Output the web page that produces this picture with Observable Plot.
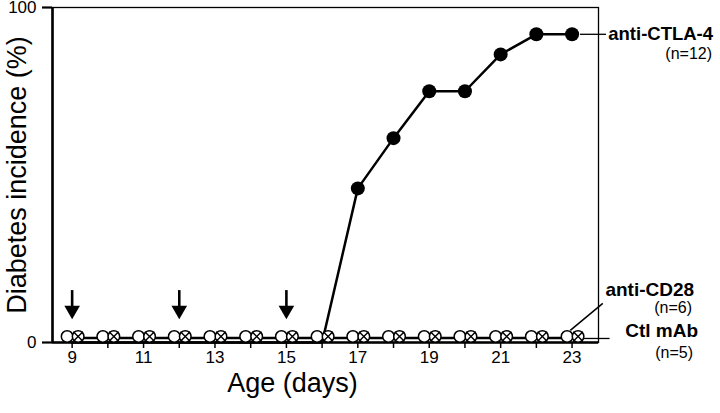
<!DOCTYPE html>
<html><head><meta charset="utf-8">
<script src="https://cdn.jsdelivr.net/npm/d3@7"></script>
<script src="https://cdn.jsdelivr.net/npm/@observablehq/plot@0.6"></script>
<style>body{margin:0;background:#fff}</style>
</head><body><div id="chart"></div>
<script>
// ---- data ----
const days = [9, 10, 11, 12, 13, 14, 15, 16, 17, 18, 19, 20, 21, 22, 23];
const antiCTLA4 = [0, 0, 0, 0, 0, 0, 0, 0, 46, 61, 75, 75, 86, 92, 92];
const antiCD28 = [0, 0, 0, 0, 0, 0, 0, 0, 0, 0, 0, 0, 0, 0, 0];
const ctlMAb = [0, 0, 0, 0, 0, 0, 0, 0, 0, 0, 0, 0, 0, 0, 0];
const treatmentDays = [9, 12, 15];
const seriesLabels = ["anti-CTLA-4", "anti-CD28", "Ctl mAb"];
const seriesN = ["(n=12)", "(n=6)", "(n=5)"];
const xTicks = [9, 10, 11, 12, 13, 14, 15, 16, 17, 18, 19, 20, 21, 22, 23];
const xTickLabels = ["9", "", "11", "", "13", "", "15", "", "17", "", "19", "", "21", "", "23"];
const yTicks = [0, 100];
const xTitle = "Age (days)";
const yTitle = "Diabetes incidence (%)";

const rows = (vals) => days.map((d, i) => ({day: d, value: vals[i]}));
const ctla = rows(antiCTLA4);
const cd28 = rows(antiCD28);
const ctl = rows(ctlMAb);
const lastOf = (r) => [r[r.length - 1]];

const font = "'Liberation Sans', Arial, Helvetica, sans-serif";
const xDomain = [8.45, 23.74];

const chart = Plot.plot({
  width: 720,
  height: 413,
  marginLeft: 52,
  marginRight: 122,
  marginTop: 7,
  marginBottom: 71,
  style: {fontFamily: font, background: "#fff", color: "#000", overflow: "visible"},
  x: {domain: xDomain},
  y: {domain: [0, 100]},
  marks: [
    Plot.frame({stroke: "#000", strokeWidth: 1.3}),
    Plot.ruleX([xDomain[0]], {stroke: "#000", strokeWidth: 2.6}),
    Plot.ruleY([0], {stroke: "#000", strokeWidth: 2.6}),
    Plot.axisY({ticks: yTicks, tickSize: 10, tickPadding: 6, strokeWidth: 2.2, fontSize: 17, label: null}),
    Plot.axisX({ticks: xTicks, tickSize: 6, tickPadding: 2, strokeWidth: 1.5, fontSize: 17, label: null,
      tickFormat: (d) => xTickLabels[xTicks.indexOf(d)]}),
    // treatment arrows
    Plot.ruleX(treatmentDays, {x: (d) => d, y1: 15.5, y2: 10.5, stroke: "#000", strokeWidth: 2.6}),
    Plot.dot(treatmentDays, {x: (d) => d, y: 9.6, symbol: "triangle", rotate: 180, r: 5.8, fill: "#000", stroke: "none"}),
    // lines
    Plot.line(cd28, {x: "day", y: "value", dx: -5, dy: -5, stroke: "#000", strokeWidth: 1.6}),
    Plot.line(ctl, {x: "day", y: "value", dx: 5, dy: -4, stroke: "#000", strokeWidth: 1.6}),
    Plot.line(ctla, {x: "day", y: "value", stroke: "#000", strokeWidth: 2.5}),
    // markers
    Plot.dot(cd28, {x: "day", y: "value", dx: -5, dy: -6, r: 5.8, fill: "#fff", stroke: "#000", strokeWidth: 1.5}),
    Plot.dot(ctl, {x: "day", y: "value", dx: 6, dy: -6, r: 5.8, fill: "#fff", stroke: "#000", strokeWidth: 1.5}),
    Plot.dot(ctl, {x: "day", y: "value", dx: 6, dy: -6, r: 4.4, symbol: "times", stroke: "#000", strokeWidth: 1.4}),
    Plot.dot(ctla.filter((d) => d.value > 0), {x: "day", y: "value", r: 7, fill: "#000", stroke: "none"}),
    // leader lines
    Plot.link(lastOf(ctla), {x1: (d) => d.day + 0.22, x2: (d) => d.day + 0.95, y1: "value", y2: "value", stroke: "#000", strokeWidth: 1.3}),
    Plot.link(lastOf(cd28), {x1: (d) => d.day - 0.05, x2: (d) => d.day + 0.86, y1: (d) => d.value + 3.6, y2: (d) => d.value + 11.7, stroke: "#000", strokeWidth: 1.5}),
    Plot.link(lastOf(ctl), {x1: (d) => d.day + 0.3, x2: (d) => d.day + 1.05, y1: (d) => d.value + 1.2, y2: (d) => d.value + 1.2, stroke: "#000", strokeWidth: 1.3}),
    // series labels
    Plot.text(lastOf(ctla), {x: "day", y: "value", text: () => seriesLabels[0], dx: 141, textAnchor: "end", fontSize: 18.5, fontWeight: "bold"}),
    Plot.text(lastOf(ctla), {x: "day", y: "value", text: () => seriesN[0], dx: 140, dy: 20, textAnchor: "end", fontSize: 16}),
    Plot.text(lastOf(cd28), {x: "day", y: "value", text: () => seriesLabels[1], dx: 122, dy: -53, textAnchor: "end", fontSize: 19, fontWeight: "bold"}),
    Plot.text(lastOf(cd28), {x: "day", y: "value", text: () => seriesN[1], dx: 120, dy: -35, textAnchor: "end", fontSize: 16}),
    Plot.text(lastOf(ctl), {x: "day", y: "value", text: () => seriesLabels[2], dx: 126, dy: -12, textAnchor: "end", fontSize: 19, fontWeight: "bold"}),
    Plot.text(lastOf(ctl), {x: "day", y: "value", text: () => seriesN[2], dx: 121, dy: 10, textAnchor: "end", fontSize: 16}),
    // axis titles
    Plot.text([xTitle], {frameAnchor: "bottom", text: (d) => d, textAnchor: "middle", lineAnchor: "middle", dx: -33, dy: 41, fontSize: 27}),
    Plot.text([yTitle], {frameAnchor: "left", text: (d) => d, textAnchor: "middle", lineAnchor: "middle", rotate: -90, dx: -35, dy: 0, fontSize: 27})
  ]
});
document.getElementById("chart").appendChild(chart);
</script>
</body></html>
